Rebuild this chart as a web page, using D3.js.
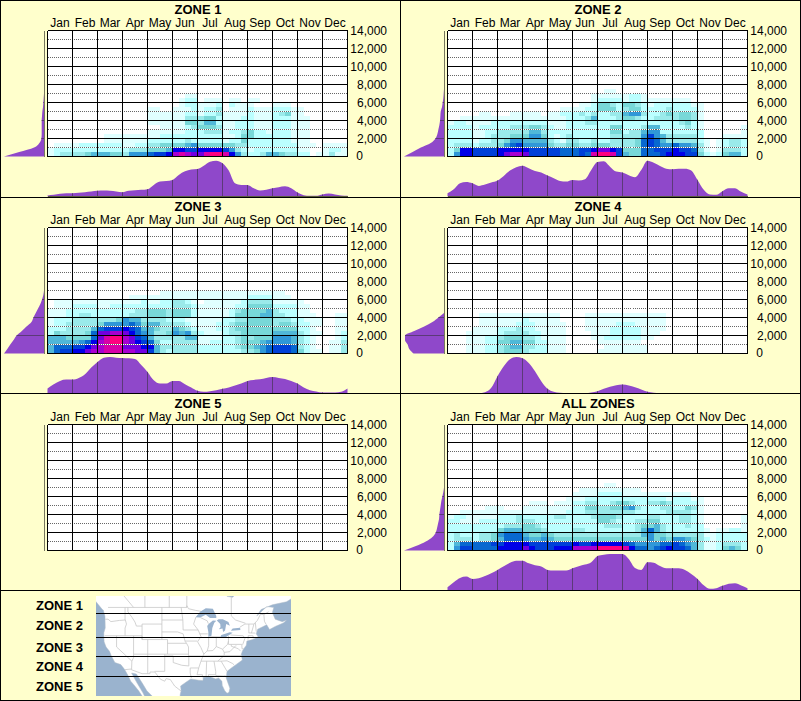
<!DOCTYPE html>
<html>
<head>
<meta charset="utf-8">
<script src="https://cdn.jsdelivr.net/npm/d3@7"></script>
<style>
  html, body { margin: 0; padding: 0; background: #ffffcc; }
  svg { display: block; }
  text { font-family: "Liberation Sans", Arial, sans-serif; fill: #000; }
</style>
</head>
<body>
<svg id="chart" width="801" height="701"></svg>
<script>
var months = ["Jan", "Feb", "Mar", "Apr", "May", "Jun", "Jul", "Aug", "Sep", "Oct", "Nov", "Dec"];
var elevTicks = [0, 2000, 4000, 6000, 8000, 10000, 12000, 14000];
var elevDotted = [1000, 3000, 5000, 7000, 9000, 11000, 13000];
var zoneNames = ["ZONE 1", "ZONE 2", "ZONE 3", "ZONE 4", "ZONE 5"];

// frequency colour ramp, index = character in the row strings below
var levelColors = ["#ffffff", "#e0ffff", "#bbffff", "#9aeaea", "#78d8d8", "#50b8d8", "#3098d8", "#0868d0",
  "#0040d8", "#0000e8", "#7000e0", "#a800d0", "#d800a8", "#ff0080"];

// heat rows, bottom row first: 500 ft per row, 4 cells per month
var zone1Rows = [
  "1233 3345 5544 3666 7889 bcba acdd c963 2235 5433 2201 1311",
  "1222 2222 2222 2333 4445 9988 9999 8632 1222 2222 1100 1221",
  "0111 1222 2222 1122 3344 4456 4444 4433 2222 2222 1110 1111",
  "0000 0000 0111 1111 2222 2232 2222 1224 2222 2221 1100 0000",
  "0000 0000 0111 1111 1122 2222 2222 1124 4222 2221 1100 0000",
  "0000 0000 0000 0000 1111 1122 2333 1223 4221 2221 1100 0000",
  "0000 0000 0000 0000 0011 1123 4443 1122 2111 2221 1100 0000",
  "0000 0000 0000 0000 1111 1144 3552 1122 2111 2221 1100 0000",
  "0000 0000 0000 0000 1111 1133 3442 1112 2111 2221 1100 0000",
  "0000 0000 0000 0000 1111 1122 1223 1111 2111 2341 1000 0000",
  "0000 0000 0000 0000 1100 1112 1223 0111 2111 2221 1000 0000",
  "0000 0000 0000 0000 0000 0122 1112 0211 1000 1110 0000 0000",
  "0000 0000 0000 0000 0000 0122 0111 0110 1100 0000 0000 0000",
  "0000 0000 0000 0000 0000 0011 0000 0000 0000 0000 0000 0000"
];
var zone2Rows = [
  "2699 8888 9abb a888 8877 787c ddc8 5447 7789 9988 4212 4552",
  "2499 8888 9999 9888 8877 7889 aa98 4447 7888 9887 3101 3332",
  "2333 2333 4678 6666 4334 4334 4433 3347 8766 7665 3101 2332",
  "2222 1223 3466 5555 3213 3223 2233 3347 8753 3333 2101 2332",
  "2222 1123 3344 4664 2123 2222 2233 3336 8653 3333 2000 1111",
  "2222 1122 3333 3553 2222 2222 2244 2335 6622 2222 2000 0001",
  "2222 1222 2233 3443 2112 2222 2244 2223 5522 2232 1000 0001",
  "1221 1112 2222 2222 1112 2233 2222 2222 2222 2342 1000 0000",
  "0011 1111 1111 1111 1112 2235 2223 4432 2333 3443 1000 0000",
  "0000 0110 0011 1110 1122 2323 2233 5663 2234 3443 1000 0000",
  "0000 0000 0000 0000 0011 1122 4442 3442 2223 2222 1000 0000",
  "0000 0000 0000 0000 0000 0112 4432 4432 1222 2221 1000 0000",
  "0000 0000 0000 0000 0000 0001 2222 1221 1111 1110 0000 0000",
  "0000 0000 0000 0000 0000 0001 1111 1221 0000 0000 0000 0000",
  "0000 0000 0000 0000 0000 0000 0110 0000 0000 0000 0000 0000"
];
var zone3Rows = [
  "5788 99ab bccc bbaa 8532 3333 2222 2223 3467 8887 4211 0113",
  "5777 889a bccc aaa9 9533 3333 2222 2234 4567 8887 3210 0113",
  "5555 5679 bcdd ba98 7422 3333 1122 2234 4456 6665 3210 0113",
  "5554 4447 acdd ba87 5333 3355 1111 2234 3444 6665 3210 0012",
  "2433 3347 aabb a976 5334 6563 2111 2334 4444 5555 3211 0012",
  "2223 3335 7888 9875 5433 5432 1112 2344 4444 4444 2210 0011",
  "1223 3333 4666 6764 5533 3321 1112 2344 4444 3443 2211 0011",
  "1222 3333 3334 6553 3332 2211 1111 2233 4444 3332 2111 0011",
  "1112 2332 2222 2333 4443 4442 1111 1244 4455 3322 1110 0011",
  "1112 2222 2222 2233 4443 4442 1111 1234 4445 3222 1100 0000",
  "0111 2222 1122 2222 2222 3332 1111 1122 4444 2222 1100 0000",
  "0111 1111 1111 1112 1122 3321 0111 1112 3333 1111 1000 0000",
  "0000 0000 0000 0111 1111 1111 1111 1111 2222 1110 0000 0000",
  "0000 0000 0000 0000 0011 1111 1111 1111 1111 1100 0000 0000"
];
var zone4Rows = [
  "0001 1122 3444 3222 1110 0000 1111 1111 0000 0000 0000 0000",
  "0001 1122 3455 3322 1110 0000 0111 1111 0000 0000 0000 0000",
  "0001 1122 4455 4422 1110 0000 1111 1110 0000 0000 0000 0000",
  "0001 1122 3444 3321 1110 0001 1222 2221 1000 0000 0000 0000",
  "0001 1111 2333 3221 1110 0001 1122 2221 1100 0000 0000 0000",
  "0000 1111 2223 2211 1110 0011 1122 2221 1110 0000 0000 0000",
  "0000 0111 1112 2211 1110 0011 1112 2211 1110 0000 0000 0000",
  "0000 0111 1111 2111 1100 0011 1111 1111 1110 0000 0000 0000",
  "0000 0111 1111 1111 1100 0011 1111 1111 1110 0000 0000 0000"
];
var zone5Rows = [];
var allRows = [
  "2688 7777 9999 a988 8999 bbbb dddd c977 6789 8875 3112 4542",
  "2577 7778 8999 9888 8888 9889 9999 8766 6677 8765 3112 3332",
  "2333 2334 5777 6556 5444 4444 4444 4444 6454 6654 3212 2222",
  "2322 2334 6777 5445 4333 3333 3333 3335 6443 3333 3112 2222",
  "2222 2222 4555 4443 2222 3322 2222 2235 7532 2222 2101 1221",
  "2222 2222 2333 4432 2222 2222 2333 2234 4532 2232 2000 0001",
  "2211 1222 2223 3322 2222 2222 4432 2233 4422 2332 1000 0001",
  "1221 1111 2223 2222 2332 2223 4443 2222 3322 2332 1000 0001",
  "0011 1111 1111 1111 1112 2233 3333 3322 2223 3332 1000 0000",
  "0000 0011 1000 1111 1111 2244 3344 5632 2233 2243 1000 0000",
  "0000 0000 0000 0111 0111 2233 2234 4322 3343 2222 1000 0000",
  "0000 0000 0000 0000 0001 1122 2222 2222 2221 2221 1000 0000",
  "0000 0000 0000 0000 0000 1111 2222 1111 1111 1110 0000 0000",
  "0000 0000 0000 0000 0000 0111 1111 1110 0000 0000 0000 0000",
  "0000 0000 0000 0000 0000 0000 0110 0000 0000 0000 0000 0000"
];

// month profile under each panel, one reading per quarter month (0..110)
var zone1ByDate = [3,5,8,10,10,11,13,15,17,18,17,15,13,17,19,20,22,35,45,47,50,65,76,81,83,93,105,108,100,78,40,35,35,25,18,20,25,28,31,25,12,4,2,2,6,9,6,3,2];
var zone2ByDate = [10,22,40,44,40,32,36,42,48,62,78,88,93,85,77,72,63,55,47,45,50,48,52,80,104,106,90,75,72,64,58,80,108,102,92,84,82,84,84,78,50,20,6,5,16,25,25,14,6];
var zone3ByDate = [15,28,38,42,42,47,58,78,95,108,110,108,107,106,104,86,65,40,30,30,38,38,28,18,8,5,7,10,14,18,24,30,38,41,43,47,50,47,44,38,30,18,10,6,3,3,3,5,15];
var zone4ByDate = [0,0,0,0,0,1,4,17,52,82,103,110,106,92,67,37,14,5,2,1,1,1,1,3,7,14,20,25,27,24,19,12,5,2,1,0,0,0,0,0,0,0,0,0,0,0,0,0,0];
var zone5ByDate = [];
var allByDate = [10,25,38,42,35,37,44,52,62,73,84,90,90,82,76,72,62,60,60,60,67,73,78,85,104,108,110,110,110,95,68,62,85,84,74,67,67,67,62,50,35,16,5,7,14,20,22,15,7];

// elevation profile left of each panel, one reading per 500 ft from 0 (0..121)
var zone1ByElev = [121,75,30,14,8,7,7,7,7,6,5,3,2,1,0];
var zone2ByElev = [121,95,70,40,26,20,17,14,12,11,10,6,4,2,1,0];
var zone3ByElev = [121,111,102,92,83,67,53,38,32,25,18,11,6,2,0];
var zone4ByElev = [92,105,110,118,118,90,60,35,17,0];
var zone5ByElev = [];
var allByElev = [121,85,55,35,25,21,18,15,14,12,10,8,5,2,0];

// coastline and borders for the small zone map, [lon, lat]
var landOutline = [[-132,58],[-130,55],[-128,52],[-127.5,50.5],[-125,48.5],[-124.7,48.4],[-124.1,46.9],[-124,44],[-124.5,42.8],[-124.4,40.4],[-123.7,39],[-122.5,37.8],[-121.9,36.6],[-120.6,34.6],[-118.5,34],[-117.2,32.6],[-116,30.8],[-115,29],[-114,28],[-112.2,26],[-110,23],[-109.5,23.2],[-110.8,25.5],[-112.8,28.5],[-114.7,31.5],[-113,31.2],[-111,28.5],[-109.3,26],[-106,23],[-105,20],[-97.5,20],[-97.8,22.5],[-97.5,25],[-97.2,26],[-97.4,27.5],[-95,29],[-93.8,29.7],[-91,29.3],[-89.5,29.2],[-89.4,30.2],[-87,30.4],[-85,29.7],[-84,30],[-82.8,29],[-82.7,27.7],[-81.8,26],[-81,25.2],[-80.3,25.5],[-80,26.8],[-81.3,30],[-81,32],[-79,33.3],[-77.5,34.2],[-75.6,35.3],[-76,36.9],[-75.5,38],[-74.2,39.5],[-74,40.6],[-72,41],[-70,41.7],[-70.7,42.5],[-70.2,43.7],[-67,44.8],[-66,43.6],[-64,44.4],[-61,45.3],[-60,46],[-61.5,45.6],[-64,46.2],[-65,47.8],[-64.5,49],[-67,49.2],[-70.5,47],[-69,48.5],[-65,49.6],[-60,50.3],[-57,51.5],[-56,53],[-56,58],[-78,58],[-78,52],[-79,51.3],[-81,51.5],[-82,53],[-82,58]];
var lakeOutlines = [
  [[-92.1,46.7],[-90.5,48],[-88.5,48.8],[-86,48.7],[-84.8,47],[-84.8,46.5],[-87,46.5],[-88.5,47.3],[-90.5,46.6]],
  [[-87.6,41.7],[-86.5,42],[-86.2,44],[-85.5,45.3],[-84.8,45.8],[-86,45.9],[-87.5,45],[-88,44.5],[-87.6,43]],
  [[-84.6,45.9],[-83.4,45],[-83.3,44.2],[-83.9,43.7],[-82.6,43.9],[-82.4,43],[-81.7,43.4],[-81.3,45],[-80,44.6],[-80.5,45.5],[-82.5,46.2],[-84,46.2]],
  [[-83.4,41.7],[-81.5,41.6],[-79,42.8],[-80,42.9],[-83,42.2]],
  [[-79.7,43.3],[-76.3,43.5],[-76.4,44.1],[-79,43.9]]
];
var borderLines = [
  [[-123,49],[-95.2,49],[-95.2,49.4],[-94.6,48.7],[-92,48.3],[-89.5,48]],
  [[-76.5,44.2],[-74.7,45],[-71.5,45],[-70.3,45.9],[-69.2,47.4],[-68,47.3],[-67.8,45.7],[-67.2,44.9]],
  [[-117.1,32.5],[-114.7,32.7],[-114.8,32.5],[-111,31.3],[-108.2,31.3],[-108.2,31.8],[-106.5,31.8],[-104.5,29.6],[-103,29],[-102.5,29.8],[-101,29.5],[-99.5,27.5],[-97.2,25.9]],
  [[-124,46.2],[-123,46.2],[-122,45.6],[-119,45.9],[-116.9,46]],
  [[-117,49],[-117,46]],
  [[-116.9,46],[-116.5,45],[-117,44],[-117,42]],
  [[-124.2,42],[-111,42]],
  [[-116,49],[-116,48],[-114.5,46.6],[-113.5,45.5],[-113,44.5],[-111,44.5]],
  [[-111,45],[-104,45],[-104,41],[-111,41],[-111,45]],
  [[-104,49],[-104,45]],
  [[-111,42],[-111,41]],
  [[-114,42],[-114,37]],
  [[-114,37],[-102,37]],
  [[-109,41],[-109,31.3]],
  [[-102,41],[-102,37]],
  [[-104,41],[-102,41]],
  [[-120,42],[-120,39],[-114.6,35],[-114.7,32.7]],
  [[-114,37],[-114,36],[-114.6,35]],
  [[-103,37],[-103,32],[-106.6,32]],
  [[-103,36.5],[-100,36.5],[-100,34.6],[-97,33.8],[-94.5,33.6]],
  [[-102,37],[-94.6,37]],
  [[-94.5,36.5],[-94.5,33.6]],
  [[-102,40],[-95.3,40]],
  [[-104,43],[-98.5,43],[-96.5,42.5]],
  [[-104,46],[-96.6,46]],
  [[-97.2,49],[-96.6,46],[-96.5,43.5]],
  [[-96.5,43.5],[-91.2,43.5]],
  [[-92,46.7],[-92.8,45],[-91.2,43.5]],
  [[-96.5,42.5],[-95.8,40.5],[-95.3,40]],
  [[-95.3,40],[-94.6,39],[-94.6,36.5]],
  [[-95.8,40.6],[-91.5,40.6]],
  [[-91.2,43.5],[-90.2,41.8],[-91.4,40.4],[-90.2,38.8],[-89.2,37],[-89.7,36],[-90.2,35],[-91,33],[-91.6,31],[-89.7,31],[-89.7,30.2]],
  [[-94.6,36.5],[-90,36.5]],
  [[-94,33],[-91,33]],
  [[-94,33],[-94,31.5],[-93.6,30]],
  [[-90.6,42.5],[-87.8,42.5]],
  [[-90.4,46.6],[-88,45.8],[-87.6,45.1]],
  [[-87.5,41.7],[-87.5,39.3],[-88,37.9]],
  [[-89.2,37],[-88,37.9],[-86,38],[-84.8,39.1],[-82.6,38.4],[-80.8,39.7],[-80.5,40.6]],
  [[-84.8,41.7],[-84.8,39.1]],
  [[-87,41.75],[-83.4,41.7]],
  [[-80.5,42],[-80.5,39.7]],
  [[-80.5,39.7],[-75.8,39.7]],
  [[-79.8,42.2],[-75.3,42],[-74.7,41.3]],
  [[-74.7,41.3],[-75.5,39.6]],
  [[-90,36.5],[-82,36.6],[-75.9,36.6]],
  [[-90.2,35],[-84.3,35],[-83.1,35]],
  [[-82,36.6],[-84.3,35]],
  [[-88.2,35],[-88.4,30.3]],
  [[-85.6,35],[-85,32],[-85,31],[-84.9,30.7]],
  [[-87.6,31],[-85,31]],
  [[-84.9,30.7],[-82.2,30.6],[-81.5,30.7]],
  [[-87.6,31],[-87.5,30.3]],
  [[-83.1,35],[-81,35.1],[-79,34.3],[-78.5,33.9]],
  [[-83.1,35],[-81,32]],
  [[-82,37.5],[-80,37.7],[-78,39.3],[-77.7,39.3]],
  [[-79.5,39.7],[-79.5,39.2],[-77,38.5],[-76.3,37.9]],
  [[-75.8,39.7],[-75.7,38.5],[-75.1,38.5]],
  [[-73.3,45],[-73.3,42.7]],
  [[-73.3,42.75],[-71,42.7]],
  [[-73.5,42.05],[-71.8,42]],
  [[-73.5,42.05],[-73.6,41]],
  [[-71.5,45],[-72.4,42.7]],
  [[-71,45.3],[-70.7,43.1]],
  [[-71.8,42],[-71.8,41.3]],
  [[-82,36.6],[-82,37.5]],
  [[-82.6,38.4],[-82,37.5]],
  [[-79.5,51.5],[-79.5,47],[-78,46],[-74.5,45.2]],
  [[-95.2,49],[-95.2,52.8]],
  [[-114,49],[-120,53.5]],
  [[-110,49],[-110,54]],
  [[-101.4,49],[-101.4,54]],
  [[-68,47.3],[-66.3,48]]
];

var panels = [
  { title: zoneNames[0], rows: zone1Rows, byDate: zone1ByDate, byElev: zone1ByElev, col: 0, row: 0 },
  { title: zoneNames[1], rows: zone2Rows, byDate: zone2ByDate, byElev: zone2ByElev, col: 1, row: 0 },
  { title: zoneNames[2], rows: zone3Rows, byDate: zone3ByDate, byElev: zone3ByElev, col: 0, row: 1 },
  { title: zoneNames[3], rows: zone4Rows, byDate: zone4ByDate, byElev: zone4ByElev, col: 1, row: 1 },
  { title: zoneNames[4], rows: zone5Rows, byDate: zone5ByDate, byElev: zone5ByElev, col: 0, row: 2 },
  { title: "ALL ZONES", rows: allRows, byDate: allByDate, byElev: allByElev, col: 1, row: 2 }
];

var svg = d3.select("#chart");
var bg = "#ffffcc";
var areaFill = "#8f48ca";
var areaLine = "#5b3a78";

svg.append("rect").attr("width", 801).attr("height", 701).attr("fill", bg);

// scales shared by all panels, panel groups are translated
var x = d3.scaleLinear().domain([0, 12]).range([47.5, 347.5]);
var monthBand = d3.scaleBand().domain(months).range([47.5, 347.5]);
var y = d3.scaleLinear().domain([0, 14000]).range([156.5, 30.5]);
var dateH = d3.scaleLinear().domain([0, 110]).range([196.5, 160]);
var elevW = d3.scaleLinear().domain([0, 121]).range([44, 4]);

function drawPanel(p, i) {
  var g = svg.append("g").attr("transform", "translate(" + (p.col * 400) + "," + (p.row * 197) + ")");

  g.append("text")
    .attr("x", 198).attr("y", 13.5)
    .attr("text-anchor", "middle")
    .attr("font-size", 13).attr("font-weight", "bold")
    .text(p.title);

  g.append("rect")
    .attr("x", x(0)).attr("y", y(14000))
    .attr("width", x(12) - x(0)).attr("height", y(0) - y(14000))
    .attr("fill", "#fff");

  // heat cells
  var cells = [];
  p.rows.forEach(function (s, r) {
    s.replace(/ /g, "").split("").forEach(function (ch, c) {
      var lev = parseInt(ch, 16);
      if (lev > 0) cells.push({ c: c, r: r, lev: lev });
    });
  });
  g.append("g").attr("shape-rendering", "crispEdges")
    .selectAll("rect").data(cells).enter().append("rect")
    .attr("x", function (d) { return x(d.c / 4); })
    .attr("y", function (d) { return y((d.r + 1) * 500); })
    .attr("width", x(0.25) - x(0))
    .attr("height", y(0) - y(500))
    .attr("fill", function (d) { return levelColors[d.lev]; });

  // dotted grid, white gaps show on the dark cells
  var grid = g.append("g").attr("shape-rendering", "crispEdges");
  grid.selectAll("line.gap").data(elevDotted).enter().append("line")
    .attr("class", "gap")
    .attr("x1", x(0)).attr("x2", x(12))
    .attr("y1", y).attr("y2", y)
    .attr("stroke", "#fff");
  grid.selectAll("line.dot").data(elevDotted).enter().append("line")
    .attr("class", "dot")
    .attr("x1", x(0)).attr("x2", x(12))
    .attr("y1", y).attr("y2", y)
    .attr("stroke", "#666").attr("stroke-dasharray", "1 1");
  grid.selectAll("line.h").data(elevTicks).enter().append("line")
    .attr("class", "h")
    .attr("x1", x(0)).attr("x2", x(12))
    .attr("y1", y).attr("y2", y)
    .attr("stroke", "#000");
  grid.selectAll("line.v").data(d3.range(13)).enter().append("line")
    .attr("class", "v")
    .attr("x1", x).attr("x2", x)
    .attr("y1", y(14000)).attr("y2", y(0))
    .attr("stroke", "#000");

  // month labels
  var mAxis = g.append("g")
    .attr("transform", "translate(0,31)")
    .call(d3.axisTop(monthBand).tickSize(0).tickPadding(4));
  mAxis.select(".domain").remove();
  mAxis.selectAll("text").attr("font-size", 12).attr("font-family", null);

  // elevation labels, the 0 sits left aligned with the 2,000
  var eAxis = g.append("g")
    .attr("transform", "translate(387,0)")
    .call(d3.axisLeft(y).tickValues(elevTicks).tickFormat(d3.format(",")).tickSize(0).tickPadding(0));
  eAxis.select(".domain").remove();
  eAxis.selectAll("text").attr("font-size", 12).attr("font-family", null)
    .attr("dy", "0.32em")
    .attr("dx", function (d) { return d === 0 ? -24 : 0; })
    .attr("y", function (d) { return d === 0 ? -1 : 0; });

  // month profile
  var dateArea = d3.area()
    .x(function (d, k) { return x(k / 4); })
    .y0(dateH(0))
    .y1(function (d) { return dateH(d); })
    .curve(d3.curveMonotoneX);
  if (p.byDate.length) {
    var clipD = "clipDate" + i;
    g.append("clipPath").attr("id", clipD).append("path").attr("d", dateArea(p.byDate));
    g.append("path").attr("d", dateArea(p.byDate)).attr("fill", areaFill);
    g.append("g").attr("clip-path", "url(#" + clipD + ")").attr("shape-rendering", "crispEdges")
      .selectAll("line").data(d3.range(1, 12)).enter().append("line")
      .attr("x1", x).attr("x2", x)
      .attr("y1", dateH(110)).attr("y2", dateH(0))
      .attr("stroke", areaLine);
  }
  g.append("line")
    .attr("x1", x(0)).attr("x2", x(12))
    .attr("y1", 196.5).attr("y2", 196.5)
    .attr("stroke", "#5a5a40").attr("shape-rendering", "crispEdges");

  // elevation profile
  var elevArea = d3.area()
    .y(function (d, k) { return y(k * 500); })
    .x0(elevW(0))
    .x1(function (d) { return elevW(d); })
    .curve(d3.curveMonotoneY);
  if (p.byElev.length) {
    var clipE = "clipElev" + i;
    g.append("clipPath").attr("id", clipE).append("path").attr("d", elevArea(p.byElev));
    g.append("path").attr("d", elevArea(p.byElev)).attr("fill", areaFill);
    g.append("g").attr("clip-path", "url(#" + clipE + ")").attr("shape-rendering", "crispEdges")
      .selectAll("line").data(elevTicks.slice(1)).enter().append("line")
      .attr("x1", elevW(121)).attr("x2", elevW(0))
      .attr("y1", y).attr("y2", y)
      .attr("stroke", areaLine);
  }
  g.append("line")
    .attr("x1", 44.5).attr("x2", 44.5)
    .attr("y1", y(14000)).attr("y2", y(0))
    .attr("stroke", "#77775f").attr("shape-rendering", "crispEdges");
}

panels.forEach(drawPanel);

// panel frame
var frame = svg.append("g").attr("stroke", "#000").attr("fill", "none").attr("shape-rendering", "crispEdges");
frame.append("rect").attr("x", 0.5).attr("y", 0.5).attr("width", 800).attr("height", 700);
[197.5, 393.5, 590.5].forEach(function (yy) {
  frame.append("line").attr("x1", 0).attr("x2", 801).attr("y1", yy).attr("y2", yy);
});
frame.append("line").attr("x1", 400.5).attr("x2", 400.5).attr("y1", 0).attr("y2", 590);

// zone legend with the small map
var legendBaselines = [610, 629.5, 652, 670.7, 690.7];
var mapBox = { x: 96, y: 596, w: 195, h: 100 };
var zoneBreaks = [613.5, 637.5, 656.5, 676.5];

svg.selectAll("text.zoneLabel").data(zoneNames).enter().append("text")
  .attr("class", "zoneLabel")
  .attr("x", 36)
  .attr("y", function (d, i) { return legendBaselines[i]; })
  .attr("font-size", 13).attr("font-weight", "bold")
  .text(function (d) { return d; });

var proj = d3.geoMercator().scale(162.3).center([-67, 25.2]).translate([266.7, 693.3]);
function ringPath(pts, close) {
  return d3.line()(pts.map(proj)) + (close ? "Z" : "");
}

svg.append("clipPath").attr("id", "mapClip").append("rect")
  .attr("x", mapBox.x).attr("y", mapBox.y).attr("width", mapBox.w).attr("height", mapBox.h);
var mapG = svg.append("g").attr("clip-path", "url(#mapClip)");
mapG.append("rect")
  .attr("x", mapBox.x).attr("y", mapBox.y).attr("width", mapBox.w).attr("height", mapBox.h)
  .attr("fill", "#9ab3ce");
mapG.append("path").attr("d", ringPath(landOutline, true)).attr("fill", "#fff");
mapG.selectAll("path.border").data(borderLines).enter().append("path")
  .attr("class", "border")
  .attr("d", function (d) { return ringPath(d, false); })
  .attr("fill", "none").attr("stroke", "#c8c8c8").attr("stroke-width", 0.8);
mapG.selectAll("path.lake").data(lakeOutlines).enter().append("path")
  .attr("class", "lake")
  .attr("d", function (d) { return ringPath(d, true); })
  .attr("fill", "#9ab3ce");
mapG.append("path").attr("d", ringPath(landOutline, true))
  .attr("fill", "none").attr("stroke", "#b0bcc8").attr("stroke-width", 0.5);

svg.append("g").attr("shape-rendering", "crispEdges")
  .selectAll("line").data(zoneBreaks).enter().append("line")
  .attr("x1", mapBox.x).attr("x2", mapBox.x + mapBox.w)
  .attr("y1", function (d) { return d; }).attr("y2", function (d) { return d; })
  .attr("stroke", "#000");
</script>
</body>
</html>
